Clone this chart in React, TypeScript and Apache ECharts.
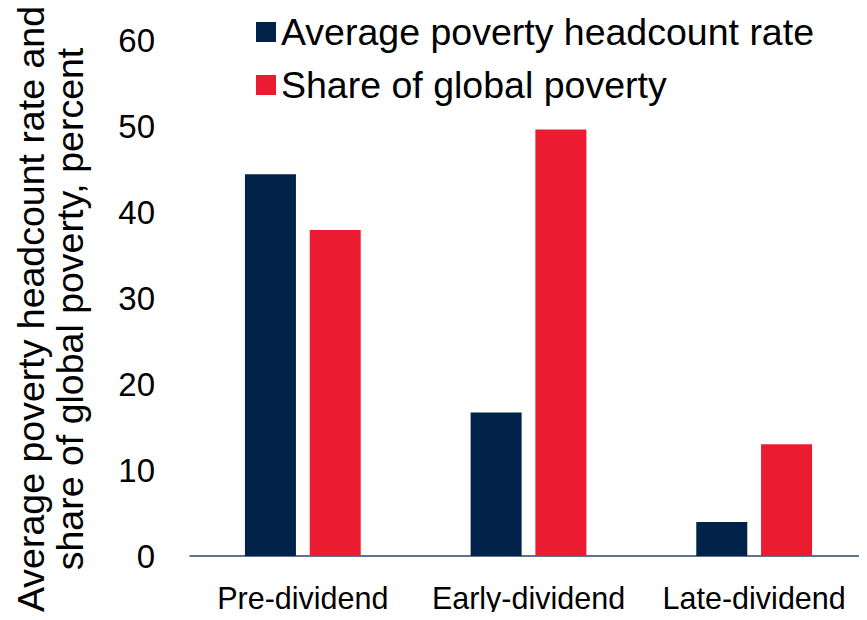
import React, { useEffect, useRef } from "react";
import * as echarts from "echarts";

const categories = ["Pre-dividend", "Early-dividend", "Late-dividend"];
const headcountRate = [44.4, 16.7, 3.95];
const shareGlobal = [37.9, 49.6, 13.0];
const seriesNames = ["Average poverty headcount rate", "Share of global poverty"];
const yTitle = "Average poverty headcount rate and\nshare of global poverty, percent";

const FONT = "'Liberation Sans', Arial, sans-serif";

export default function App() {
  const ref = useRef<HTMLDivElement>(null);
  useEffect(() => {
    if (!ref.current) return;
    const chart = echarts.init(ref.current, undefined, { renderer: "svg" });
    chart.setOption({
      animation: false,
      backgroundColor: "#ffffff",
      textStyle: { fontFamily: FONT, color: "#000" },
      legend: {
        orient: "vertical",
        left: 251,
        top: 8,
        itemWidth: 20,
        itemHeight: 20,
        itemGap: 15,
        icon: "rect",
        textStyle: { fontSize: 37.5, color: "#000", fontFamily: FONT },
        data: seriesNames,
      },
      graphic: [
        {
          type: "text",
          x: 50,
          y: 309,
          rotation: Math.PI / 2,
          style: {
            text: yTitle,
            font: `37.5px ${FONT}`,
            lineHeight: 39,
            fill: "#000",
            align: "center",
            verticalAlign: "middle",
          },
        },
      ],
      grid: { left: 190, width: 681, top: 40, bottom: 64, containLabel: false },
      xAxis: {
        type: "category",
        data: categories,
        axisLine: { show: true, lineStyle: { color: "#2B4766", width: 1.5 } },
        axisTick: { show: false },
        axisLabel: { fontSize: 30.5, color: "#000", margin: 27, fontFamily: FONT, interval: 0, lineHeight: 30, verticalAlign: "top" },
      },
      yAxis: {
        type: "value",
        min: 0,
        max: 60,
        interval: 10,
        axisLine: { show: false },
        axisTick: { show: false },
        splitLine: { show: false },
        axisLabel: { fontSize: 33, color: "#000", margin: 35, fontFamily: FONT },
      },
      series: [
        {
          name: seriesNames[0],
          type: "bar",
          data: headcountRate,
          barWidth: 51,
          barGap: "27%",
          itemStyle: { color: "#012249" },
        },
        {
          name: seriesNames[1],
          type: "bar",
          data: shareGlobal,
          barWidth: 51,
          itemStyle: { color: "#EB1C2F" },
        },
      ],
    });
    return () => chart.dispose();
  }, []);
  return <div ref={ref} style={{ width: 867, height: 620, margin: -8 }} />;
}
